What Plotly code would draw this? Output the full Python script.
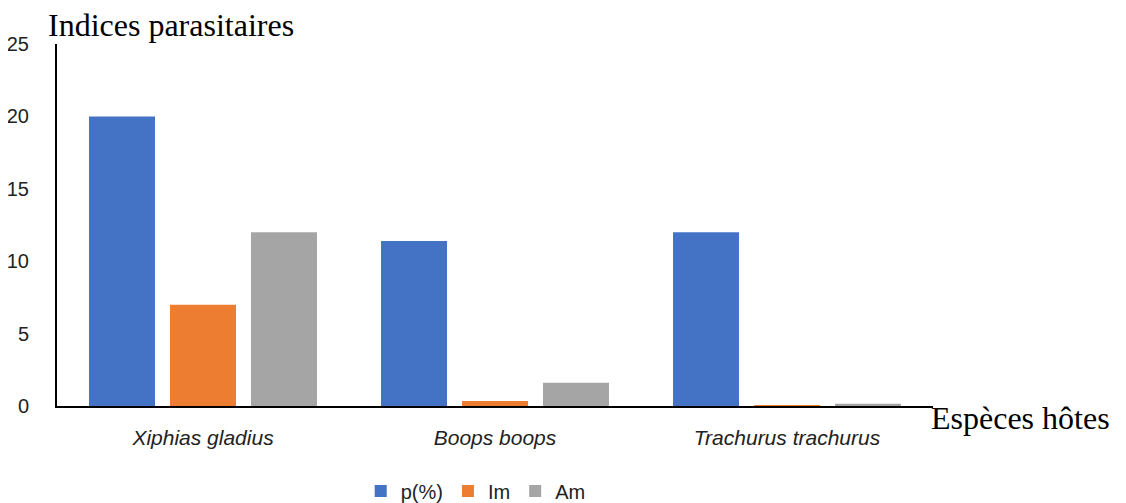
import plotly.graph_objects as go

categories = ["Xiphias gladius", "Boops boops", "Trachurus trachurus"]
p_values = [20.0, 11.4, 12.0]
im_values = [7.0, 0.35, 0.05]
am_values = [12.0, 1.6, 0.15]
y_ticks = [0, 5, 10, 15, 20, 25]

fig = go.Figure()
fig.add_bar(name="p(%)", x=categories, y=p_values, marker=dict(color="#4472C4", line=dict(width=0)))
fig.add_bar(name="Im", x=categories, y=im_values, marker=dict(color="#ED7D31", line=dict(width=0)))
fig.add_bar(name="Am", x=categories, y=am_values, marker=dict(color="#A5A5A5", line=dict(width=0)))

# page has an 8px body margin, so the figure is drawn at (8, 8)
fig.update_layout(
    width=1118, height=495,
    margin=dict(l=49, r=193, t=36, b=97, autoexpand=False),
    paper_bgcolor="white", plot_bgcolor="white",
    barmode="group", bargap=0.168, bargroupgap=0.185,
    showlegend=True,
    legend=dict(orientation="h", x=0.478, xanchor="center", y=-0.235, yanchor="middle",
                font=dict(family="Liberation Sans", size=20, color="#222"),
                itemwidth=30, traceorder="normal"),
    xaxis=dict(range=[-0.5, 2.5], showline=True, linecolor="black", linewidth=2,
               showgrid=False, ticks="", zeroline=False, automargin=False,
               tickfont=dict(family="Liberation Sans", size=21, color="#222", style="italic"),
               ticklabelstandoff=12),
    yaxis=dict(range=[0, 25], tickvals=y_ticks, showline=True, linecolor="black", linewidth=2,
               showgrid=False, ticks="", zeroline=False, automargin=False,
               tickfont=dict(family="Liberation Sans", size=20, color="#222"),
               ticklabelstandoff=22),
    annotations=[
        dict(text="Indices parasitaires", xref="paper", yref="paper", x=-0.011, y=1.0,
             xanchor="left", yanchor="bottom", yshift=0, showarrow=False, borderpad=0,
             font=dict(family="Liberation Serif", size=32, color="black")),
        dict(text="Espèces hôtes", xref="paper", yref="paper", x=1.0, y=0.0,
             xanchor="left", yanchor="middle", yshift=-12, xshift=-4, showarrow=False,
             font=dict(family="Liberation Serif", size=32, color="black")),
    ],
)

fig.write_html("out.html")
